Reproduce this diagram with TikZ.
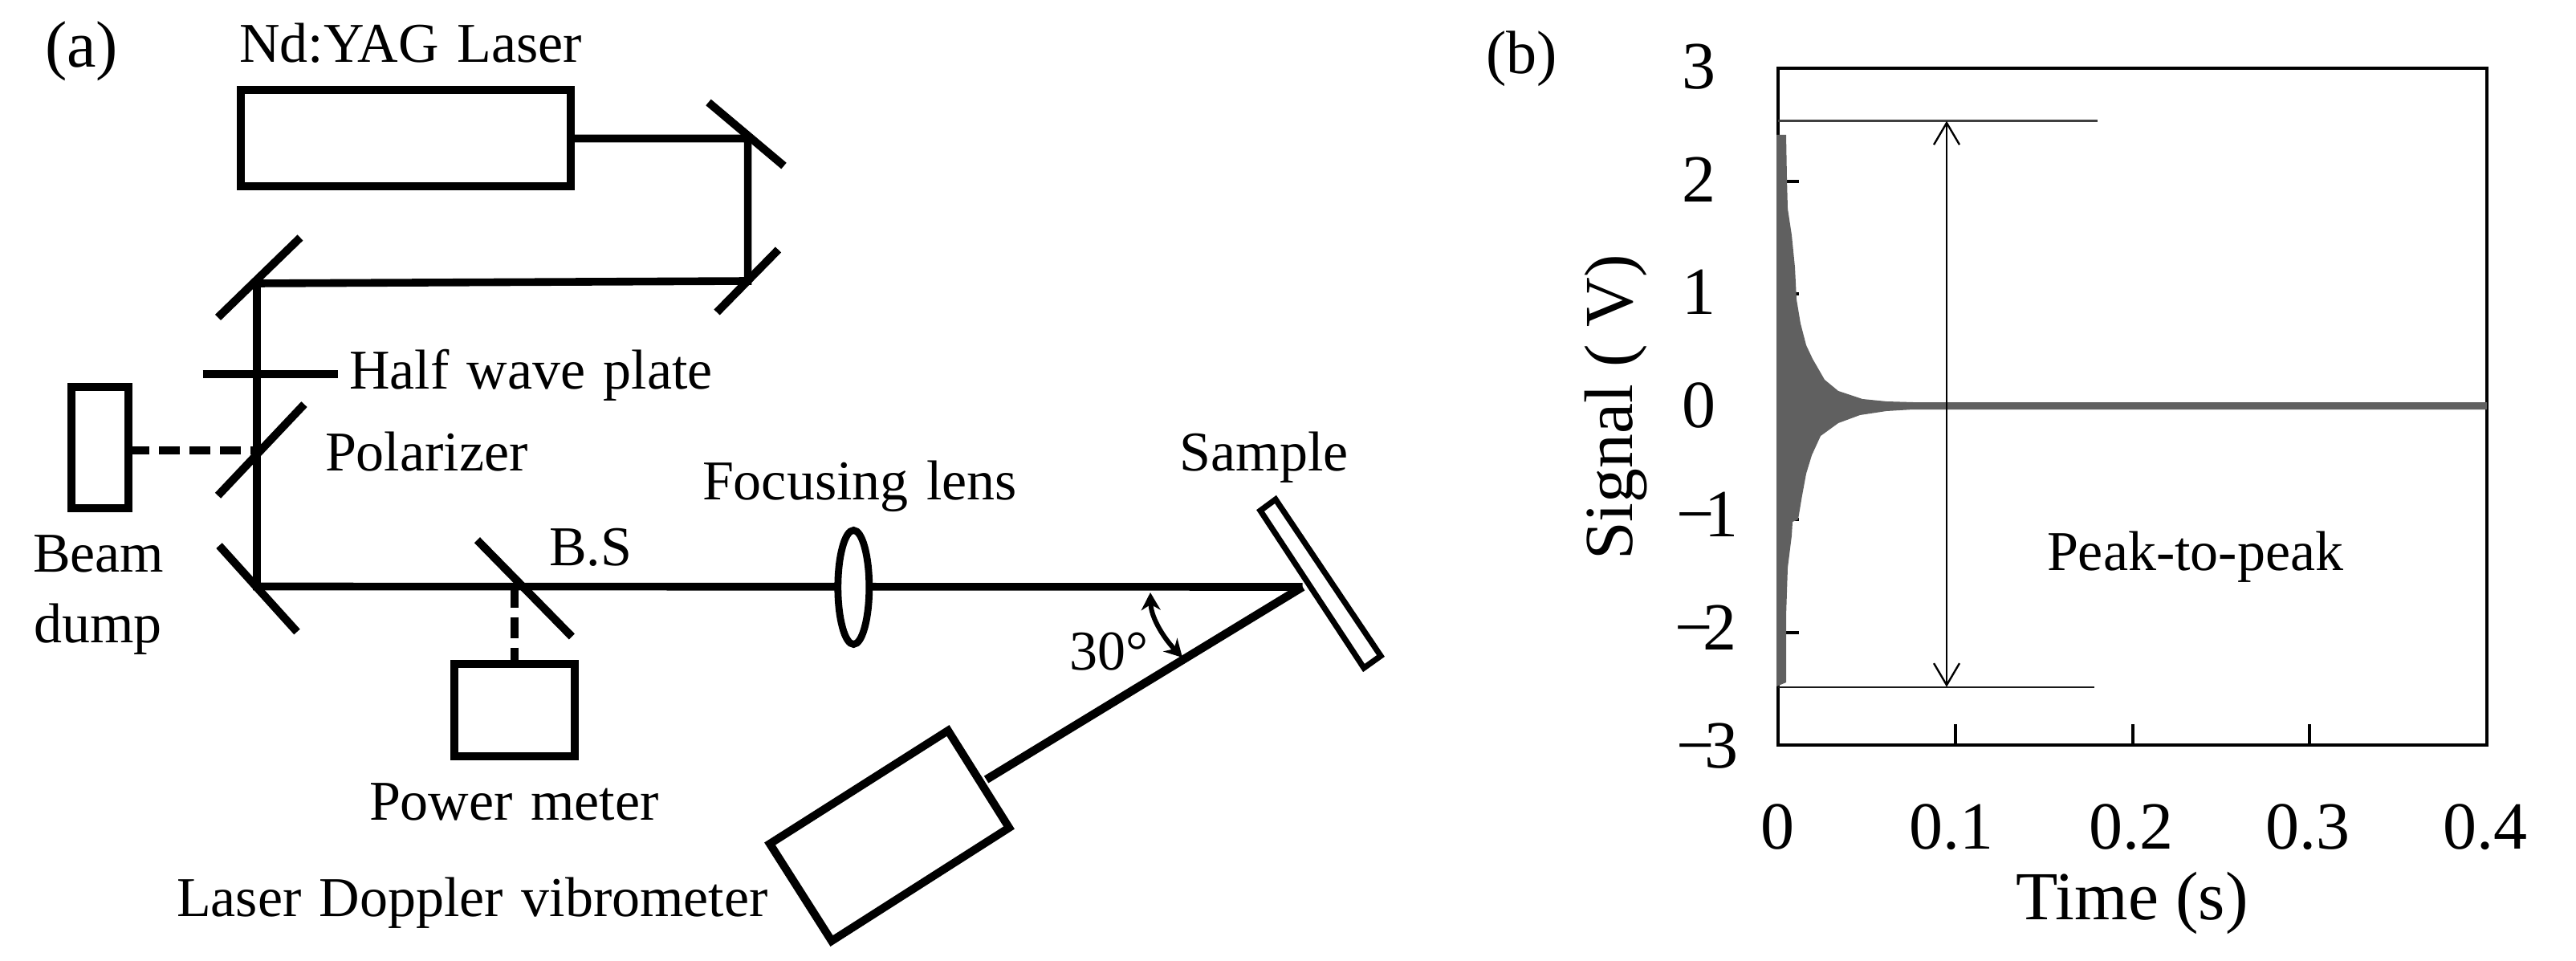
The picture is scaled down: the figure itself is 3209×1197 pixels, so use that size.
\documentclass[tikz,border=0pt]{standalone}
\usepackage{fontspec}
\setmainfont{Liberation Serif}
\usetikzlibrary{arrows.meta}
\definecolor{sigcol}{RGB}{96,96,96}
\newcommand{\widespaces}{\spaceskip .32em\relax}
\tikzset{
  optic/.style={line width=2.5pt,line cap=butt},
  beam/.style={line width=2.4pt,line cap=butt},
  dashbeam/.style={line width=2.5pt,dash pattern=on 6.5pt off 3pt},
  box/.style={draw,line width=2.5pt,inner sep=0,outer sep=0,fill=white},
  thinbox/.style={line width=2.5pt,line join=miter},
  lbl/.style={inner sep=0,outer sep=0,anchor=base west,font=\fontsize{17.5}{20}\selectfont\widespaces},
  big/.style={lbl,font=\fontsize{20.5}{24}\selectfont},
  ticklbl/.style={inner sep=0,outer sep=0,anchor=base west,font=\fontsize{21}{24}\selectfont},
  xticklbl/.style={inner sep=0,outer sep=0,anchor=base,font=\fontsize{21}{24}\selectfont},
  axlbl/.style={inner sep=0,outer sep=0,font=\fontsize{21.4}{24}\selectfont},
  frame/.style={line width=1pt},
  peak/.style={line width=.75pt,draw=black!75},
  dbl/.style={line width=.6pt,{Straight Barb[length=6.8pt,width=8pt]}-{Straight Barb[length=6.8pt,width=8pt]}},
  angle/.style={line width=1.5pt,{Stealth[length=5.5pt,width=6pt]}-{Stealth[length=5.5pt,width=6pt]}}
}
\begin{document}
\begin{tikzpicture}[x=.25pt,y=-.25pt]
\useasboundingbox (0,0) rectangle (3209,1197);

% (a) optical layout
\coordinate (m1) at (931.6,172.5);
\coordinate (m2) at (931.6,350);
\coordinate (m3) at (320,353);
\coordinate (pol) at (320,561);
\coordinate (m4) at (320,730.5);
\coordinate (bs) at (641,730.5);
\coordinate (smp) at (1622.7,731);
\coordinate (ldvp) at (1228.6,971);

\node[box,minimum width=102.75pt,minimum height=30pt] (laser) at (505,172.3) {};
\node[box,minimum width=17.75pt,minimum height=37.6pt] (dump) at (124.5,557.3) {};
\node[box,minimum width=37.4pt,minimum height=28.75pt] (pm) at (640.8,884.5) {};

\draw[beam] (laser.east |- m1) -- (m1) -- (m2) -- (m3) -- (m4) -- (smp);
\draw[beam,line width=2.6pt] (smp) -- (ldvp);
\draw[dashbeam] (dump.east |- pol) -- (pol);
\draw[dashbeam] (bs) -- (bs |- pm.north);

\draw[optic] (882.5,127.5) -- (976.5,206.6);
\draw[optic] (969.5,311) -- (893,389);
\draw[optic] (374,296) -- (271.5,395.4);
\draw[optic] (252.5,466) -- (421,466);
\draw[optic] (379,503.6) -- (271.5,617.3);
\draw[optic] (273,679.6) -- (370,787);
\draw[optic] (594.4,672.7) -- (712.4,793);

\draw[thinbox,line width=2.2pt,fill=white] (1063.3,731.5) ellipse [x radius=19.5,y radius=71];
\draw[thinbox,line width=1.8pt,fill=white] (1589,622) -- (1570,636) -- (1699,832) -- (1720,817) -- cycle;
\draw[thinbox,fill=white] (1181,910) -- (959,1051) -- (1036,1172) -- (1257,1031) -- cycle;
\draw[angle] (1433,738) .. controls (1434,770) and (1450,795) .. (1473,819);

\node[big] (a) at (56,84) {(a)};
\node[lbl] (yag) at (298,77.5) {Nd:YAG Laser};
\node[lbl] (hwp) at (435,484.7) {Half wave plate};
\node[lbl] (polt) at (405,586.7) {Polarizer};
\node[lbl] (beamt) at (41,712.8) {Beam};
\node[lbl] (dumpt) at (42,800) {dump};
\node[lbl] (bst) at (684,704) {B.S};
\node[lbl] (foc) at (875,622) {Focusing lens};
\node[lbl] (samp) at (1469.6,586.7) {Sample};
\node[lbl] (ang) at (1332.5,834) {30°};
\node[lbl] (pmt) at (460,1021.5) {Power meter};
\node[lbl] (ldvt) at (220,1141.8) {Laser Doppler vibrometer};

% (b) signal plot
\draw[frame] (2215,85.5) rectangle (3098,928);
\foreach \xx in {2435.75,2656.5,2877.25} \draw[frame] (\xx,928) -- (\xx,902);
\foreach \yy in {225.9,366.3,506.7,647.1,787.5} \draw[frame] (2215,\yy) -- (2241,\yy);

\fill[sigcol] (2213,168) -- (2225,168) -- (2226,223) -- (2227,260) -- (2232,293) -- (2236,333) -- (2238,373)
  -- (2243,403) -- (2250,430) -- (2258,447) -- (2273,473) -- (2290,487) -- (2320,497) -- (2350,500)
  -- (2383,501) -- (2700,501) -- (3098,501) -- (3098,510) -- (2383,510) -- (2350,512) -- (2317,517)
  -- (2290,527) -- (2268,543) -- (2257,567) -- (2250,590) -- (2245,617) -- (2240,647) -- (2233,650)
  -- (2232,667) -- (2227,707) -- (2225,767) -- (2225,850) -- (2213,855) -- cycle;

\coordinate (ptop) at (2425,150.7);
\coordinate (pbot) at (2425,855.7);
\draw[peak] (2215,150.7) -- (2613,150.7);
\draw[peak,draw=black!90,line width=.6pt] (2215,855.7) -- (2608.6,855.7);
\draw[dbl] (pbot) -- (ptop);

\node[big,font=\fontsize{19}{22}\selectfont] (b) at (1851,92) {(b)};
\node[ticklbl] (y3) at (2095,110.7) {3};
\node[ticklbl] (y2) at (2095,252) {2};
\node[ticklbl] (y1) at (2095,391.6) {1};
\node[ticklbl] (y0) at (2095,532) {0};
\node[ticklbl] (ym1) at (2088,668) {−\kern-.14em 1};
\node[ticklbl] (ym2) at (2086,809) {−\kern-.14em 2};
\node[ticklbl] (ym3) at (2088,956.5) {−\kern-.14em 3};
\node[xticklbl] (x0) at (2214,1057) {0};
\node[xticklbl] (x1) at (2431,1057) {0.1};
\node[xticklbl] (x2) at (2655,1057) {0.2};
\node[xticklbl] (x3) at (2875,1057) {0.3};
\node[xticklbl] (x4) at (3096,1057) {0.4};
\node[axlbl,anchor=base] (xl) at (2656,1145) {Time (s)};
\node[axlbl,anchor=base,rotate=90] (yl) at (2033.6,507.5) {Signal ( V)};
\node[lbl] (pp) at (2550,710) {Peak-to-peak};
\end{tikzpicture}
\end{document}
